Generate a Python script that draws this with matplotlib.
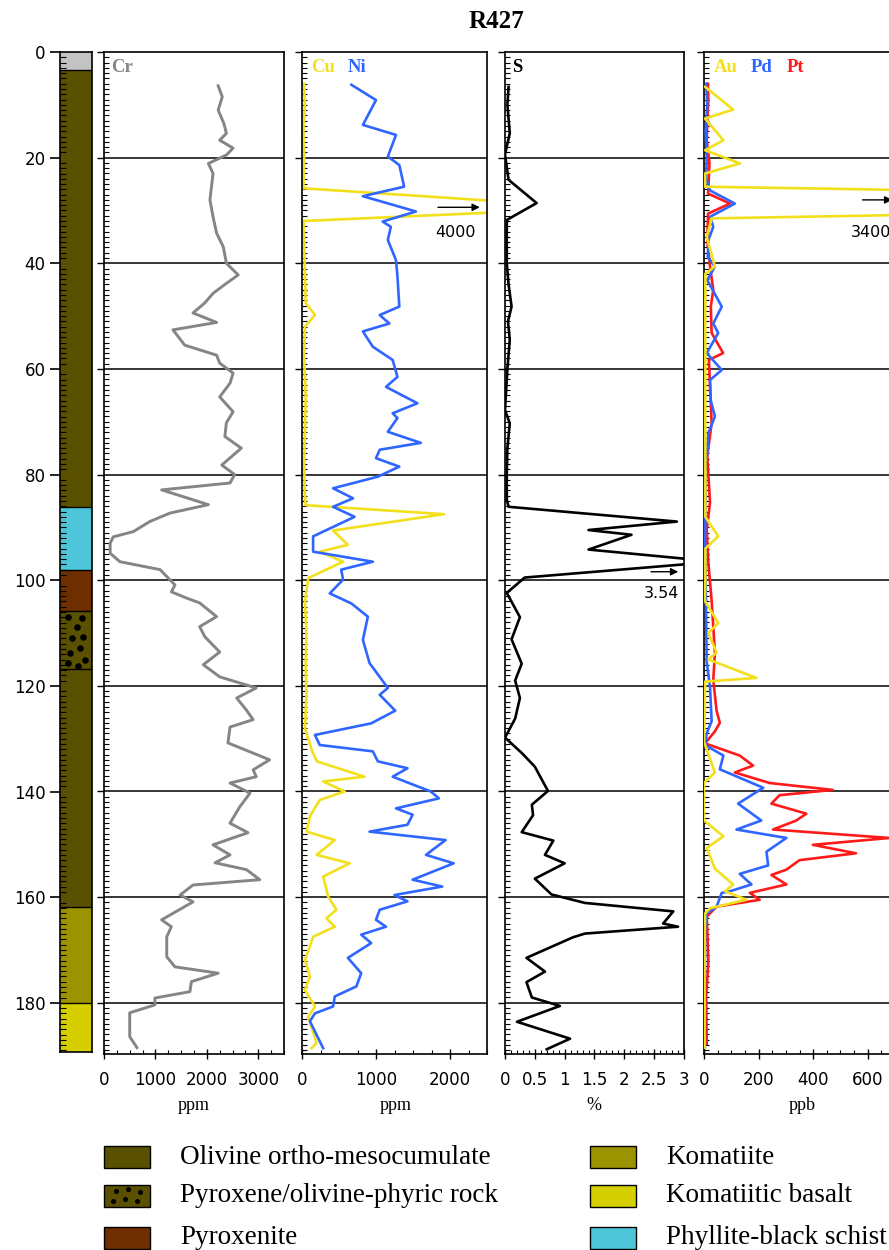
import matplotlib
matplotlib.use('Agg')
import matplotlib.pyplot as plt
from matplotlib.patches import Rectangle
from matplotlib.ticker import MultipleLocator, FuncFormatter

W, H = 889, 1250
DEPTH_MAX = 189.7
SERIF = 'Liberation Serif'

# lithological log of drill hole R427 (depth in m)
unit_top = [0, 3.5, 86.2, 98.0, 105.8, 116.8, 161.8, 180.0]
unit_base = [3.5, 86.2, 98.0, 105.8, 116.8, 161.8, 180.0, 189.5]
unit_rock = ['cover', 'olivine', 'phyllite', 'pyroxenite', 'phyric', 'olivine', 'komatiite', 'basalt']

rock_colors = {
    'cover': '#c3c3c3',
    'olivine': '#5a5100',
    'phyric': '#5a5100',
    'pyroxenite': '#6e2e00',
    'komatiite': '#9c9300',
    'basalt': '#d6cf00',
    'phyllite': '#4cc6d8',
}

# phenocryst symbols in the phyric unit (x as fraction of column width)
dots_x = [0.26, 0.68, 0.52, 0.36, 0.73, 0.63, 0.31, 0.78, 0.26, 0.57]
dots_depth = [107.0, 107.2, 108.9, 111.0, 110.7, 112.9, 113.8, 115.1, 115.7, 116.2]

# Cr (ppm)
cr_depth = [6.4, 8.5, 11.0, 13.5, 15.4, 16.7, 18.2, 19.5, 21.1, 23.0, 25.5, 28.0, 31.2, 34.3, 36.9,
            40.0, 42.2, 43.8, 45.7, 47.5, 49.4, 51.2, 52.6, 55.5, 57.4, 58.9, 60.8, 62.7, 65.3, 68.1,
            70.2, 72.8, 75.0, 78.2, 80.0, 81.6, 82.9, 85.7, 87.3, 88.9, 90.8, 91.8, 93.0, 94.9, 96.5,
            98.0, 99.3, 100.9, 102.2, 103.4, 104.3, 106.9, 108.8, 110.7, 113.6, 116.0, 118.3, 120.4,
            122.3, 124.6, 126.4, 127.8, 130.8, 134.0, 135.9, 137.2, 138.4, 140.3, 142.9, 146.0, 147.8,
            150.1, 152.0, 153.5, 154.8, 156.7, 157.7, 159.6, 160.9, 164.3, 165.6, 167.5, 171.3, 173.2,
            174.4, 176.0, 177.9, 179.1, 180.4, 181.9, 186.4, 188.5]
cr = [2220, 2300, 2220, 2330, 2380, 2250, 2510, 2380, 2030, 2120, 2090, 2060, 2120, 2190, 2320,
      2380, 2610, 2380, 2120, 1960, 1730, 2190, 1340, 1570, 2190, 2250, 2510, 2450, 2250, 2510,
      2380, 2350, 2670, 2290, 2540, 2450, 1120, 2030, 1280, 890, 570, 180, 120, 120, 310,
      1090, 1220, 1380, 1310, 1610, 1860, 2190, 1860, 1960, 2250, 1930, 2250, 2960,
      2580, 2770, 2900, 2450, 2410, 3220, 2900, 2960, 2450, 2840, 2640, 2450, 2800,
      2120, 2450, 2160, 2770, 3030, 1730, 1480, 1730, 1120, 1310, 1220, 1220, 1380,
      2220, 1700, 1670, 990, 990, 500, 500, 640]

# Cu and Ni (ppm)
cu_depth = [6.0, 10, 15, 20, 25.8, 29.5, 32.0, 36, 42, 47.5, 49.8, 52.0, 58, 65, 72, 78, 84, 85.8,
            87.5, 90.6, 93.3, 94.6, 96.5, 99.6, 104, 110, 116, 122, 128, 132.1, 134.3, 137.2, 138.1,
            140.0, 141.6, 144.7, 147.6, 149.2, 152.0, 153.6, 156.1, 159.9, 162.4, 164.0, 165.6,
            167.5, 171.9, 175.0, 177.6, 180.7, 182.7, 187.6, 188.6]
cu = [30, 40, 20, 30, 20, 4000, 20, 30, 40, 50, 175, 40, 30, 50, 40, 30, 40, 50,
      1920, 420, 620, 240, 555, 85, 40, 60, 50, 60, 40, 130, 200, 845, 286,
      577, 240, 107, 63, 443, 197, 644, 286, 353, 465, 330, 443,
      152, 40, 107, 40, 175, 85, 197, 130]
ni_depth = [6.2, 9.1, 13.8, 15.7, 19.8, 21.4, 25.5, 27.3, 30.2, 32.1, 33.1, 35.6, 39.4, 42.5, 48.2,
            49.8, 51.4, 52.9, 55.8, 58.3, 61.5, 63.4, 66.5, 68.4, 69.3, 71.9, 74.0, 75.3, 76.9, 78.5,
            80.4, 82.6, 84.5, 86.1, 88.0, 91.7, 94.6, 96.5, 98.0, 99.9, 102.5, 104.4, 106.9, 111.3,
            115.7, 120.4, 121.7, 124.7, 127.1, 129.3, 131.2, 132.4, 134.3, 135.6, 137.2, 140.0,
            141.3, 143.2, 144.4, 146.3, 147.6, 149.2, 152.0, 153.6, 156.7, 158.0, 159.6, 160.8,
            162.4, 164.3, 165.6, 167.1, 168.7, 171.5, 174.4, 176.9, 178.8, 180.7, 182.0, 183.5, 188.6]
ni = [667, 1000, 823, 1270, 1160, 1315, 1380, 823, 1540, 1090, 1200, 1160, 1270, 1290, 1315,
      1050, 1180, 823, 957, 1225, 1290, 1135, 1560, 1225, 1290, 1160, 1605, 1050, 1000, 1315,
      1025, 420, 690, 420, 710, 150, 150, 957, 530, 555, 375, 667, 890, 823,
      913, 1160, 1050, 1260, 935, 175, 240, 957, 1025, 1425, 1225, 1740,
      1850, 1270, 1495, 1425, 913, 1940, 1675, 2050, 1495, 1895, 1250, 1425,
      1050, 1000, 1135, 800, 935, 620, 800, 735, 443, 420, 175, 107, 286]

# S (%)
s_depth = [6.6, 10, 15.4, 19.4, 24.2, 28.6, 31.8, 40, 44, 48.2, 51, 54.5, 60, 67.8, 70.3, 75, 79.7,
           84.8, 86.1, 88.9, 90.5, 91.4, 94.2, 96.5, 99.5, 102.4, 107.0, 111.2, 115.8, 119.0,
           122.3, 126.2, 129.8, 132.7, 135.3, 139.9, 142.5, 144.5, 147.7, 149.3, 152.0, 153.6,
           156.5, 159.5, 161.1, 162.7, 165.0, 165.6, 166.9, 167.6, 171.5, 174.1, 176.1, 179.0,
           180.6, 183.6, 186.8, 188.8]
s = [0.06, 0.04, 0.08, 0.0, 0.06, 0.53, 0.03, 0.03, 0.06, 0.11, 0.05, 0.08, 0.04, 0.0, 0.08, 0.04, 0.03,
     0.03, 0.06, 2.88, 1.40, 2.12, 1.40, 3.54, 0.33, 0.03, 0.25, 0.11, 0.28, 0.17,
     0.25, 0.17, 0.0, 0.28, 0.50, 0.72, 0.45, 0.47, 0.28, 0.81, 0.67, 1.0,
     0.50, 0.78, 1.34, 2.82, 2.65, 2.9, 1.34, 1.14, 0.36, 0.67, 0.36, 0.45,
     0.92, 0.2, 1.09, 0.70]

# Au, Pd, Pt (ppb)
au_depth = [6.6, 10.9, 12.6, 16.7, 18.6, 21.1, 23.0, 25.5, 28.4, 31.5, 35, 40.6, 42, 50, 60, 70, 80,
            88, 91.7, 94, 100, 103.9, 108.1, 110.0, 113.7, 115.0, 118.5, 119.2, 125, 130.6, 136.4,
            138.4, 145.5, 148.5, 150.7, 154.6, 157.6, 158.9, 160.5, 162.1, 163.1, 170, 180, 188.5]
au = [4, 107, 4, 71, 4, 132, 4, 4, 3400, 28, 10, 40, 5, 5, 5, 5, 5,
      5, 52, 5, 5, 3, 52, 16, 46, 16, 192, 4, 3, 0, 40,
      0, 0, 71, 10, 40, 107, 77, 156, 22, 4, 2, 2, 2]
pd_depth = [6, 10, 15, 20, 24, 26.2, 28.7, 31.2, 33.1, 35.6, 38.8, 40.6, 43.2, 48.2, 51.4, 53.2,
            57.0, 60.2, 62.1, 66, 69.0, 72.1, 76, 79.7, 85, 92, 100, 108, 115.6, 120.2, 126.7,
            129.0, 131.2, 133.2, 135.8, 139.3, 142.3, 145.5, 147.2, 148.8, 151.4, 154.0, 155.6,
            157.6, 158.9, 159.2, 161.8, 163.1, 165.7, 175, 188.5]
pd = [8, 12, 6, 10, 8, 22, 113, 22, 34, 16, 14, 40, 12, 65, 34, 52,
      10, 65, 22, 25, 40, 16, 12, 4, 6, 4, 6, 8, 10, 22, 28,
      10, 4, 71, 58, 217, 125, 210, 119, 302, 229, 235, 131,
      174, 95, 65, 46, 10, 4, 3, 3]
pt_depth = [6, 9.2, 13, 16.7, 21, 26.8, 28.7, 30.6, 35.6, 40.6, 45.0, 48.2, 53.2, 57.0, 58.3, 63.3,
            70.3, 76.5, 85.3, 90.4, 96.7, 103.9, 113.7, 118.9, 124.7, 127.0, 128.6, 130.9, 133.2,
            135.1, 136.4, 138.4, 139.7, 140.7, 142.3, 144.2, 145.5, 147.2, 148.8, 150.1, 151.7,
            153.0, 154.8, 155.8, 157.6, 159.2, 160.5, 161.8, 163.7, 172.2, 178.7, 187.8]
pt = [14, 16, 12, 10, 20, 15, 95, 15, 12, 22, 34, 25, 28, 70, 18, 22,
      28, 12, 22, 10, 16, 28, 40, 34, 46, 58, 40, 4, 131,
      180, 113, 241, 472, 277, 247, 375, 338, 253, 680, 399, 557,
      350, 302, 247, 302, 168, 204, 46, 10, 16, 8, 10]

legend_left = ['Olivine ortho-mesocumulate', 'Pyroxene/olivine-phyric rock', 'Pyroxenite']
legend_left_rock = ['olivine', 'phyric', 'pyroxenite']
legend_right = ['Komatiite', 'Komatiitic basalt', 'Phyllite-black schist']
legend_right_rock = ['komatiite', 'basalt', 'phyllite']

YELLOW = '#f3e01c'
BLUE = '#2f66ff'
RED = '#ff1a1a'
GRAY = '#858585'

fig = plt.figure(figsize=(W / 100, H / 100), dpi=100)


def px_axes(x0, x1, y0=52, y1=1054):
    return fig.add_axes([x0 / W, 1 - y1 / H, (x1 - x0) / W, (y1 - y0) / H])


def setup_panel(ax, xmax, major, minor, fmt=None):
    ax.set_xlim(0, xmax)
    ax.set_ylim(DEPTH_MAX, 0)
    ax.yaxis.set_major_locator(MultipleLocator(20))
    ax.yaxis.set_minor_locator(MultipleLocator(1))
    ax.xaxis.set_major_locator(MultipleLocator(major))
    ax.xaxis.set_minor_locator(MultipleLocator(minor))
    if fmt:
        ax.xaxis.set_major_formatter(FuncFormatter(fmt))
    for d in range(20, 181, 20):
        ax.axhline(d, color='black', lw=1.1, zorder=1)
    ax.tick_params(axis='y', which='major', direction='out', length=5, width=1, labelleft=False)
    ax.tick_params(axis='y', which='minor', direction='in', length=3.5, width=0.8)
    ax.tick_params(axis='x', which='major', direction='inout', length=7, width=1,
                   labelsize=12, pad=9)
    ax.tick_params(axis='x', which='minor', direction='in', length=3, width=0.8)
    for sp in ax.spines.values():
        sp.set_linewidth(1.2)


# lithology column with depth axis
ax_lith = px_axes(60, 92, 52, 1052)
ax_lith.set_xlim(0, 1)
ax_lith.set_ylim(189.3, 0)
for top, base, rock in zip(unit_top, unit_base, unit_rock):
    ax_lith.axhspan(top, base, color=rock_colors[rock], lw=0)
    ax_lith.axhline(base, color='black', lw=1)
ax_lith.scatter(dots_x, dots_depth, s=14, color='black', zorder=3)
ax_lith.set_xticks([])
ax_lith.yaxis.set_major_locator(MultipleLocator(20))
ax_lith.yaxis.set_minor_locator(MultipleLocator(1))
ax_lith.tick_params(axis='y', which='major', direction='out', length=7, width=1.2, labelsize=12)
ax_lith.tick_params(axis='y', which='minor', direction='in', length=4, width=0.8)
for sp in ax_lith.spines.values():
    sp.set_linewidth(1.2)

# Cr
ax_cr = px_axes(104, 284)
setup_panel(ax_cr, 3500, 1000, 250)
ax_cr.plot(cr, cr_depth, color=GRAY, lw=2.1, zorder=2)

# Cu, Ni
ax_cn = px_axes(302, 487)
setup_panel(ax_cn, 2500, 1000, 250)
ax_cn.plot(cu, cu_depth, color=YELLOW, lw=1.9, zorder=2)
ax_cn.plot(ni, ni_depth, color=BLUE, lw=1.9, zorder=3)
ax_cn.annotate('', xy=(2440, 29.4), xytext=(1800, 29.4),
               arrowprops=dict(arrowstyle='-|>', color='black', lw=1, mutation_scale=11))
ax_cn.text(2080, 34.2, '4000', ha='center', va='center', fontsize=11.5)

# S
ax_s = px_axes(505, 684)
setup_panel(ax_s, 3, 0.5, 0.1, fmt=lambda v, p: f'{v:g}')
ax_s.plot(s, s_depth, color='black', lw=1.9, zorder=2)
ax_s.annotate('', xy=(2.95, 98.4), xytext=(2.40, 98.4),
              arrowprops=dict(arrowstyle='-|>', color='black', lw=1, mutation_scale=11))
ax_s.text(2.62, 102.6, '3.54', ha='center', va='center', fontsize=11.5)

# Au, Pd, Pt (right edge runs past the figure)
ax_pge = px_axes(704, 895)
setup_panel(ax_pge, 700, 200, 50)
ax_pge.plot(pt, pt_depth, color=RED, lw=1.9, zorder=2)
ax_pge.plot(pd, pd_depth, color=BLUE, lw=1.9, zorder=3)
ax_pge.plot(au, au_depth, color=YELLOW, lw=1.9, zorder=4)
ax_pge.annotate('', xy=(700, 28.0), xytext=(571, 28.0),
                arrowprops=dict(arrowstyle='-|>', color='black', lw=1, mutation_scale=11))
ax_pge.text(538, 34.2, '3400', ha='left', va='center', fontsize=11.5)


def fig_text(x, y, txt, **kw):
    fig.text(x / W, 1 - y / H, txt, **kw)


lab = dict(family=SERIF, fontweight='bold', fontsize=13.5, ha='left', va='center')
fig_text(496, 22, 'R427', family=SERIF, fontweight='bold', fontsize=18, ha='center', va='center')
fig_text(111, 68, 'Cr', color=GRAY, **lab)
fig_text(311, 68, 'Cu', color=YELLOW, **lab)
fig_text(348, 68, 'Ni', color=BLUE, **lab)
fig_text(512, 68, 'S', color='black', **lab)
fig_text(714, 68, 'Au', color=YELLOW, **lab)
fig_text(751, 68, 'Pd', color=BLUE, **lab)
fig_text(787, 68, 'Pt', color=RED, **lab)

for xc, unit in [(194, 'ppm'), (396, 'ppm'), (594, '%'), (802, 'ppb')]:
    fig_text(xc, 1106, unit, family=SERIF, fontsize=13, ha='center', va='center')

# legend of rock types
lax = fig.add_axes([0, 0, 1, 125 / H])
lax.set_xlim(0, W)
lax.set_ylim(H, H - 125)
lax.axis('off')
rows_y = [1157, 1196, 1238]
for col_x, names, rocks in [(104, legend_left, legend_left_rock), (590, legend_right, legend_right_rock)]:
    for yc, name, rock in zip(rows_y, names, rocks):
        lax.add_patch(Rectangle((col_x, yc - 11), 46, 22, facecolor=rock_colors[rock],
                                edgecolor='black', lw=1))
        if rock == 'phyric':
            lax.scatter([col_x + 12, col_x + 24, col_x + 36, col_x + 9, col_x + 21, col_x + 33],
                        [yc - 5, yc - 7, yc - 4, yc + 5, yc + 3, yc + 5], s=7, color='black')
        lax.text(col_x + 76, yc, name, family=SERIF, fontsize=19.5, ha='left', va='center')

fig.savefig('out.png', dpi=100)
